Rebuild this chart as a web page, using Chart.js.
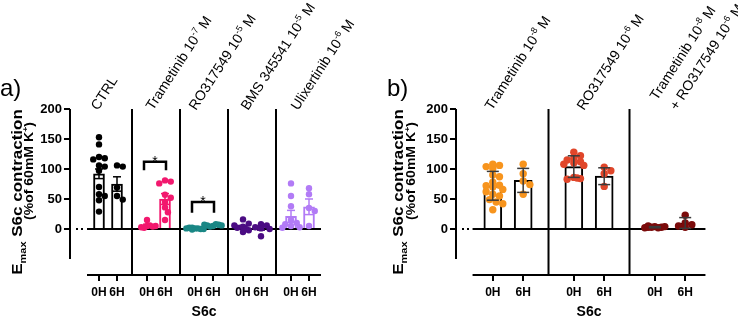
<!DOCTYPE html>
<html>
<head>
<meta charset="utf-8">
<script src="https://cdn.jsdelivr.net/npm/chart.js@4.4.1/dist/chart.umd.min.js"></script>
<style>
  html, body { margin: 0; padding: 0; background: #fff; }
  #wrap { position: relative; width: 738px; height: 318px; overflow: hidden; }
  canvas { position: absolute; top: 0; }
  #chartA { left: 0; }
  #chartB { left: 369px; }
</style>
</head>
<body>
<div id="wrap">
  <canvas id="chartA" width="369" height="318"></canvas>
  <canvas id="chartB" width="369" height="318"></canvas>
</div>
<script>
const FONT = '"Liberation Sans", Arial, sans-serif';

// Shared labels
const conditions = ['0H', '6H'];
const yTicks = [0, 50, 100, 150, 200];
const yTitle = ['E_{max} S6c contraction', '(%of 60mM K^{+})'];
const xTitle = 'S6c';

// Panel a) - mean ± SEM
const groupsA = ['CTRL', 'Trametinib 10^{-7} M', 'RO317549 10^{-5} M', 'BMS 345541 10^{-5} M', 'Ulixertinib 10^{-6} M'];
const colorsA = ['#000000', '#f2186e', '#1a8785', '#4b0c83', '#b27bf6'];
const meansA = [[92, 75], [6, 50], [1, 6], [3, 1], [21, 37]];
const errA = [[8, 12], [2, 9], [0.5, 1], [3, 3], [10, 13]];
const pointsA = [
    [[153, 141, 120, 118, 116, 106, 104, 97, 70, 58, 55, 48, 29], [106, 104, 69, 55, 49]],
    [[15, 5, 4, 3, 6, 2, 5], [81, 79, 76, 57, 52, 45, 36, 28, 15]],
    [[1, 0, 2, 1, -1, 0, 1, 2], [5, 7, 6, 8, 4, 6, 7]],
    [[16, 9, 4, 2, -2, -5, 0, 6], [8, 6, 3, 1, 0, -12]],
    [[76, 55, 38, 15, 10, 8, 5, 3, 2], [68, 58, 35, 30, 5]]
];
// [group, bracket top, bracket leg end]
const starsA = [[1, 112, 98], [2, 45, 27]];

// Panel b) - mean ± SD
const groupsB = ['Trametinib 10^{-8} M', 'RO317549 10^{-6} M', 'Trametinib 10^{-8} M\n+ RO317549 10^{-6} M'];
const colorsB = ['#f7941d', '#e0462a', '#7b0b0b'];
const meansB = [[72, 81], [104, 88], [3, 10]];
const errB = [[24, 20], [18, 14], [1, 9]];
const pointsB = [
    [[108, 106, 104, 101, 90, 87, 78, 73, 72, 70, 66, 62, 58, 55, 49, 45, 42, 32], [108, 92, 80, 74, 58]],
    [[128, 122, 118, 115, 112, 110, 108, 106, 86, 84, 83, 85], [103, 97, 92, 71]],
    [[4, 3, 5, 2, 3, 4, 2, 3], [23, 10, 7, 5, 3]]
];
const starsB = [];

const half = 0.1875; // 0H / 6H offset from group centre

// --- rich text: ^{sup} and _{sub}
function parseRich(s) {
    const out = [];
    const re = /([_^])\{([^}]*)\}/g;
    let last = 0, m;
    while ((m = re.exec(s))) {
        if (m.index > last) out.push({ t: s.slice(last, m.index), k: '' });
        out.push({ t: m[2], k: m[1] });
        last = re.lastIndex;
    }
    if (last < s.length) out.push({ t: s.slice(last), k: '' });
    return out;
}

function drawRich(ctx, s, x, y, size, weight, align) {
    const segs = parseRich(s);
    let w = 0;
    segs.forEach(sg => {
        ctx.font = `${weight} ${sg.k ? Math.round(size * 0.65) : size}px ${FONT}`;
        sg.w = ctx.measureText(sg.t).width;
        w += sg.w;
    });
    let cx = align === 'center' ? x - w / 2 : x;
    ctx.textAlign = 'left';
    ctx.textBaseline = 'alphabetic';
    segs.forEach(sg => {
        ctx.font = `${weight} ${sg.k ? Math.round(size * 0.65) : size}px ${FONT}`;
        const dy = sg.k === '^' ? -size * 0.4 : sg.k === '_' ? size * 0.25 : 0;
        ctx.fillText(sg.t, cx, y + dy);
        cx += sg.w;
    });
}

function line(ctx, x1, y1, x2, y2) {
    ctx.beginPath();
    ctx.moveTo(x1, y1);
    ctx.lineTo(x2, y2);
    ctx.stroke();
}

// Axes, separators, error bars, labels
function makeDecor(P) {
    const n = P.groups.length;
    return {
        id: 'decor',
        beforeDatasetsDraw(chart) {
            const { ctx, chartArea: a, scales: { x, y } } = chart;
            const x0 = x.getPixelForValue(-0.4375), x1 = x.getPixelForValue(n - 1 + 0.4375);
            ctx.save();
            ctx.strokeStyle = '#000';
            ctx.lineWidth = 2;
            line(ctx, a.left, y.getPixelForValue(200), a.left, y.getPixelForValue(-50));
            line(ctx, x0, a.bottom, x1, a.bottom);
            for (let g = 0; g < n - 1; g++) {
                const sx = x.getPixelForValue(g + 0.5);
                line(ctx, sx, y.getPixelForValue(200), sx, a.bottom);
            }
            ctx.restore();
        },
        afterDatasetDraw(chart, args) {
            if (args.meta.type !== 'bar') return;
            const { ctx, chartArea: a, scales: { x, y } } = chart;
            const x0 = x.getPixelForValue(-0.4375), x1 = x.getPixelForValue(n - 1 + 0.4375);
            const y0 = y.getPixelForValue(0);
            ctx.save();
            ctx.strokeStyle = '#000';
            ctx.lineWidth = 2;
            line(ctx, x0, y0, x1, y0);
            ctx.setLineDash([2, 3]);
            line(ctx, a.left + 6, y0, x0 - 1, y0);
            ctx.restore();
        },
        afterDatasetsDraw(chart) {
            const { ctx, scales: { x, y } } = chart;
            ctx.save();
            ctx.lineWidth = 1.5;
            P.means.forEach((m, g) => m.forEach((v, j) => {
                const px = x.getPixelForValue(g + (j ? half : -half));
                const e = P.err[g][j];
                const yt = y.getPixelForValue(v + e), yb = y.getPixelForValue(v - e);
                ctx.strokeStyle = P.errColor || P.colors[g];
                line(ctx, px, yt, px, yb);
                line(ctx, px - P.capPx / 2, yt, px + P.capPx / 2, yt);
                line(ctx, px - P.capPx / 2, yb, px + P.capPx / 2, yb);
            }));
            // significance brackets
            ctx.strokeStyle = '#000';
            ctx.fillStyle = '#000';
            ctx.lineWidth = 2.5;
            P.stars.forEach(([g, top, leg]) => {
                const xl = x.getPixelForValue(g - half) - 3, xr = x.getPixelForValue(g + half) + 1;
                const yt = y.getPixelForValue(top), yl = y.getPixelForValue(leg);
                ctx.beginPath();
                ctx.moveTo(xl, yl);
                ctx.lineTo(xl, yt);
                ctx.lineTo(xr, yt);
                ctx.lineTo(xr, yl);
                ctx.stroke();
                ctx.font = `14px ${FONT}`;
                ctx.textAlign = 'center';
                ctx.textBaseline = 'alphabetic';
                ctx.fillText('*', (xl + xr) / 2, yt + 4);
            });
            ctx.restore();
        },
        afterDraw(chart) {
            const { ctx, chartArea: a, scales: { x } } = chart;
            ctx.save();
            ctx.fillStyle = '#000';
            // rotated group labels
            P.groups.forEach((label, g) => {
                const gx = x.getPixelForValue(g);
                label.split('\n').forEach((txt, i) => {
                    const [dx, dy] = P.labelNudge[g][i];
                    ctx.save();
                    ctx.translate(gx + dx, 111 + dy);
                    ctx.rotate(-57 * Math.PI / 180);
                    drawRich(ctx, txt, 0, 0, 14, 'normal', 'left');
                    ctx.restore();
                });
            });
            // y title, two lines
            [[yTitle[0], P.titleDx[0], 192, 17], [yTitle[1], P.titleDx[1], 171, 14]].forEach(([t, dx, cy, size]) => {
                ctx.save();
                ctx.translate(a.left + dx, cy);
                ctx.rotate(-Math.PI / 2);
                ctx.scale(1, 0.85);
                drawRich(ctx, t, 0, 0, size, 'bold', 'center');
                ctx.restore();
            });
            // x title
            const mid = (x.getPixelForValue(-0.4375) + x.getPixelForValue(P.groups.length - 1 + 0.4375)) / 2;
            drawRich(ctx, xTitle, mid, 316, 14, 'bold', 'center');
            // panel letter
            drawRich(ctx, P.letter, a.left - P.letterDx, 96, 24, 'normal', 'left');
            ctx.restore();
        }
    };
}

// spread overlapping dots sideways, kept within a few steps of the column
function swarm(chart, r) {
    const xs = chart.scales.x, ys = chart.scales.y;
    const step = r * 0.9;
    chart.data.datasets.forEach(ds => {
        if (ds.type !== 'scatter') return;
        const placed = [];
        ds.data.forEach(p => {
            const cx = xs.getPixelForValue(p.col), py = ys.getPixelForValue(p.y);
            let best = 0, bestGap = -1;
            for (let k = 0; k < 7; k++) {
                const off = (k % 2 ? 1 : -1) * Math.ceil(k / 2) * step;
                const gap = placed.length ? Math.min(...placed.map(q => Math.hypot(q[0] - (cx + off), q[1] - py))) : Infinity;
                if (gap >= r * 1.6) { best = off; break; }
                if (gap > bestGap + 0.5) { bestGap = gap; best = off; }
            }
            placed.push([cx + best, py]);
            p.x = xs.getValueForPixel(cx + best);
        });
    });
    chart.update('none');
}

function makePanel(id, P) {
    const cols = [];
    P.means.forEach((m, g) => conditions.forEach((c, j) => cols.push({ g, j, x: g + (j ? half : -half) })));

    const datasets = [{
        type: 'bar',
        order: 2,
        data: cols.map(c => ({ x: c.x, y: P.means[c.g][c.j] })),
        backgroundColor: '#ffffff',
        borderColor: cols.map(c => P.barEdge || P.colors[c.g]),
        borderWidth: 2,
        barThickness: P.barPx
    }];
    cols.forEach(c => {
        datasets.push({
            type: 'scatter',
            order: 1,
            data: P.points[c.g][c.j].map(v => ({ x: c.x, y: v, col: c.x })),
            backgroundColor: P.colors[c.g],
            borderWidth: 0,
            pointRadius: P.dotR,
            pointHoverRadius: P.dotR
        });
    });

    const tickPos = cols.map(c => c.x);
    const tickLabels = cols.map(c => conditions[c.j]);

    const chart = new Chart(document.getElementById(id), {
        type: 'bar',
        data: { datasets },
        options: {
            responsive: false,
            animation: false,
            events: [],
            layout: { padding: { left: 0, top: 109, right: P.padRight, bottom: 0 } },
            plugins: { legend: { display: false }, tooltip: { enabled: false } },
            scales: {
                x: {
                    type: 'linear',
                    min: P.xMin,
                    max: P.xMax,
                    offset: false,
                    afterBuildTicks: s => { s.ticks = tickPos.map(v => ({ value: v })); },
                    afterFit: s => { s.height = 43; },
                    border: { display: false },
                    grid: { offset: false, drawOnChartArea: false, drawTicks: true, tickLength: 6, color: '#000', lineWidth: 2 },
                    ticks: {
                        autoSkip: false,
                        maxRotation: 0,
                        padding: 4,
                        color: '#000',
                        font: { family: FONT, size: 12, weight: 'bold' },
                        callback: (v, i) => tickLabels[i]
                    }
                },
                y: {
                    type: 'linear',
                    min: -76.7,
                    max: 200,
                    afterBuildTicks: s => { s.ticks = yTicks.map(v => ({ value: v })); },
                    afterFit: s => { s.width = P.axisLeft; },
                    border: { display: false },
                    grid: { drawOnChartArea: false, drawTicks: true, tickLength: 6, color: '#000', lineWidth: 2 },
                    ticks: { padding: 2, color: '#000', font: { family: FONT, size: 13, weight: 'bold' } }
                }
            }
        },
        plugins: [makeDecor(P)]
    });
    swarm(chart, P.dotR);
    return chart;
}

makePanel('chartA', {
    groups: groupsA, colors: colorsA, means: meansA, err: errA, points: pointsA, stars: starsA,
    xMin: -0.7917, xMax: 4.4375, axisLeft: 70, padRight: 48,
    barPx: 11, dotR: 3.2, capPx: 8,
    labelNudge: [[[-10, 0]], [[-3, 0]], [[-8, 0]], [[-4, 0]], [[-2, 0]]],
    titleDx: [-48, -37], letter: 'a)', letterDx: 70
});

makePanel('chartB', {
    groups: groupsB, colors: colorsB, means: meansB, err: errB, points: pointsB, stars: starsB,
    xMin: -0.642, xMax: 2.432, axisLeft: 87, padRight: 33,
    barPx: 18, dotR: 3.7, capPx: 12, barEdge: '#000', errColor: '#3a3a3a',
    labelNudge: [[[-16, 0]], [[-5, 0]], [[-13, -10], [7, 0]]],
    titleDx: [-53, -41], letter: 'b)', letterDx: 69
});
</script>
</body>
</html>
